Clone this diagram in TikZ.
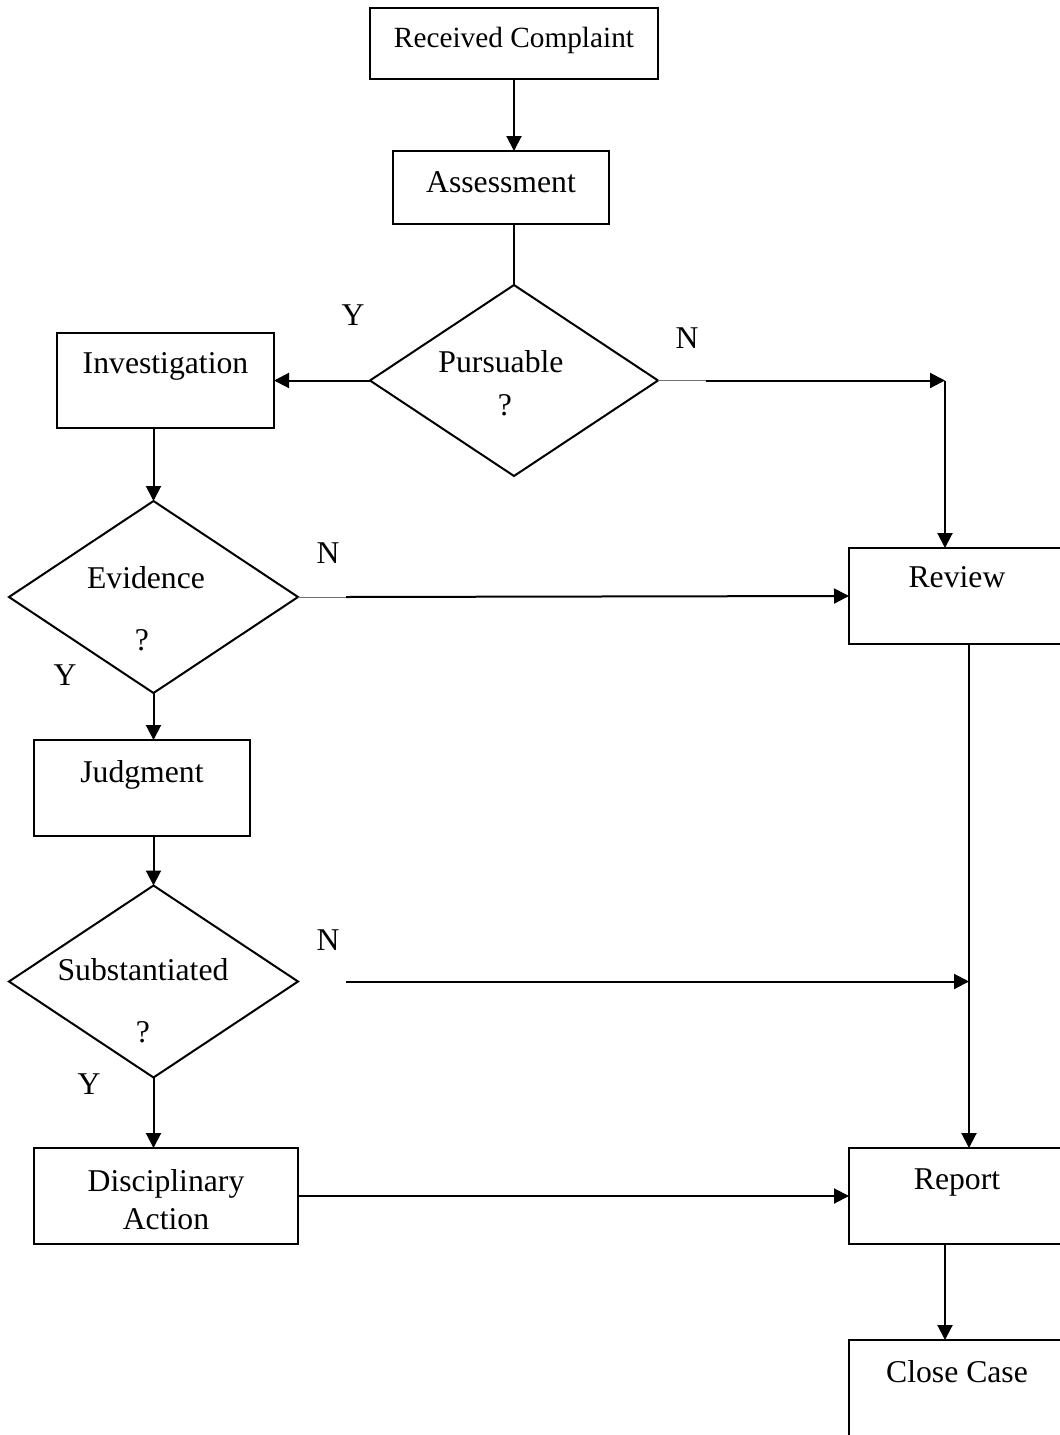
\documentclass[tikz,border=0pt]{standalone}
\usepackage{fontspec}
\setmainfont{Liberation Serif}
\usetikzlibrary{arrows.meta,shapes.geometric}
\begin{document}
\begin{tikzpicture}[x=1pt,y=-1pt,
  every node/.style={font=\fontsize{31.7}{38}\selectfont, inner sep=0pt, outer sep=0pt},
  box/.style={draw, line width=2pt, rectangle},
  dia/.style={draw, line width=2pt, diamond},
  lbl/.style={anchor=north, yshift=#1},
  arr/.style={line width=2pt, -{Triangle[length=15pt,width=15pt]}},
  ln/.style={line width=2pt},
  thin/.style={line width=0.9pt, black!55}]
\useasboundingbox (0,0) rectangle (1060,1435);
\clip (0,0) rectangle (1060,1435);

% boxes
\node[box, minimum width=288pt, minimum height=71pt,
  label={[lbl=-19pt, font=\fontsize{29.3}{35}\selectfont]north:Received Complaint}] (rc) at (514,43.5) {};
\node[box, minimum width=216pt, minimum height=73pt, label={[lbl=-21pt]north:Assessment}] (as) at (501,187.5) {};
\node[box, minimum width=217pt, minimum height=95pt, label={[lbl=-19.5pt]north:Investigation}] (inv) at (165.5,380.5) {};
\node[box, minimum width=216pt, minimum height=96pt, label={[lbl=-20pt]north:Judgment}] (jd) at (142,788) {};
\node[box, minimum width=264pt, minimum height=96pt, label={[lbl=-21pt, align=center]north:Disciplinary\\Action}] (da) at (166,1196) {};
\node[box, minimum width=216pt, minimum height=96pt, label={[lbl=-19pt]north:Review}] (rev) at (957,596) {};
\node[box, minimum width=216pt, minimum height=96pt, label={[lbl=-21pt]north:Report}] (rep) at (957,1196) {};
\node[box, minimum width=216pt, minimum height=96pt, label={[lbl=-20pt]north:Close Case}] (cc) at (957,1388) {};

% diamonds
\node[dia, minimum width=288pt, minimum height=191pt,
  label={[xshift=-13pt, yshift=18.5pt]center:Pursuable},
  label={[xshift=-9pt, yshift=-24.5pt]center:?}] (pd) at (514,380.5) {};
\node[dia, minimum width=289pt, minimum height=192pt,
  label={[xshift=-7.5pt, yshift=19pt]center:Evidence},
  label={[xshift=-11.5pt, yshift=-43pt]center:?}] (ed) at (153.5,597) {};
\node[dia, minimum width=289pt, minimum height=192pt,
  label={[xshift=-10.5pt, yshift=11.5pt]center:Substantiated},
  label={[xshift=-10.5pt, yshift=-50.5pt]center:?}] (sd) at (153.5,981.5) {};

% Y / N labels
\node (y1) at (353,315) {Y};
\node (n1) at (687,338) {N};
\node (n2) at (328,553) {N};
\node (y2) at (65,675) {Y};
\node (n3) at (328,940) {N};
\node (y3) at (89,1084) {Y};

% helper coordinates
\coordinate (c1) at (945,380.5);
\coordinate (c2) at (969,981.5);
\coordinate (t1) at (706,380.5);
\coordinate (t2) at (346,597);
\coordinate (t3) at (346,981.5);

% connectors
\draw[arr] (rc.south) -- (rc.south |- as.north);
\draw[ln] (pd.north |- as.south) -- (pd.north);
\draw[arr] (pd.west) -- (inv.east);
\draw[thin] (pd.east) -- (t1);
\draw[arr] (t1) -- (c1);
\draw[arr] (c1) -- (c1 |- rev.north);
\draw[arr] (ed.north |- inv.south) -- (ed.north);
\draw[thin] (ed.east) -- (t2);
\draw[arr] (t2) -- (rev.west);
\draw[arr] (ed.south) -- (ed.south |- jd.north);
\draw[arr] (sd.north |- jd.south) -- (sd.north);
\draw[arr] (t3) -- (c2);
\draw[arr] (c2 |- rev.south) -- (c2 |- rep.north);
\draw[arr] (sd.south) -- (sd.south |- da.north);
\draw[arr] (da.east) -- (rep.west);
\draw[arr] (c1 |- rep.south) -- (c1 |- cc.north);
\end{tikzpicture}
\end{document}
